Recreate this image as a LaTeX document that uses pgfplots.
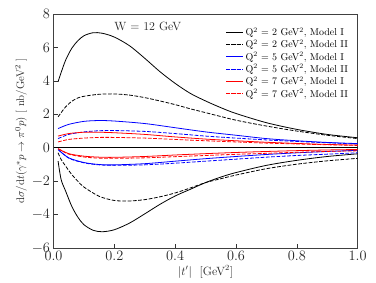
\documentclass[border=0pt]{standalone}
\usepackage{pgfplots}
\pgfplotsset{compat=1.18}
\begin{document}
\begin{tikzpicture}
\begin{axis}[
  scale only axis, width=304bp, height=234bp,
  xmin=0, xmax=1, ymin=-6, ymax=8,
  xtick={0,0.2,0.4,0.6,0.8,1.0},
  xticklabel style={/pgf/number format/.cd,fixed,fixed zerofill,precision=1},
  ytick={-6,-4,-2,0,2,4,6,8},
  tick align=inside, xtick pos=bottom, ytick pos=left,
  major tick length=4bp,
  tick style={black!80, line width=0.6pt},
  axis line style={black!75, line width=0.6pt},
  ticklabel style={font=\fontsize{14}{16}\selectfont, color=black!85},
  xlabel style={font=\fontsize{12}{14}\selectfont, color=black!85, yshift=2bp},
  ylabel style={font=\fontsize{11}{13}\selectfont, color=black!85, yshift=-2bp},
  xlabel={$|t'|$ \ [GeV$^2$]},
  ylabel={$\mathrm{d}\sigma/\mathrm{d}t(\gamma^*p\to\pi^0p)$ [ nb/GeV$^2$ ]},
  legend style={draw=none, fill=none, at={(rel axis cs:0.985,0.96)}, anchor=north east,
    font=\fontsize{10}{12}\selectfont, row sep=-1.3bp},
  legend cell align=left,
  every axis plot/.append style={line width=0.8pt, smooth},
]
\addlegendimage{line legend, draw=black, line width=1.1pt}
\addlegendentry{Q$^2$ = 2 GeV$^2$, Model I}
\addlegendimage{line legend, draw=black, line width=1.1pt, dash pattern=on 3.7bp off 1.6bp}
\addlegendentry{Q$^2$ = 2 GeV$^2$, Model II}
\addlegendimage{line legend, draw=blue, line width=1.1pt}
\addlegendentry{Q$^2$ = 5 GeV$^2$, Model I}
\addlegendimage{line legend, draw=blue, line width=1.1pt, dash pattern=on 3.7bp off 1.6bp}
\addlegendentry{Q$^2$ = 5 GeV$^2$, Model II}
\addlegendimage{line legend, draw=red, line width=1.1pt}
\addlegendentry{Q$^2$ = 7 GeV$^2$, Model I}
\addlegendimage{line legend, draw=red, line width=1.1pt, dash pattern=on 3.7bp off 1.6bp}
\addlegendentry{Q$^2$ = 7 GeV$^2$, Model II}
\addplot[black, line width=1.2pt, forget plot] coordinates {(0,0) (1,0)};
\addplot[black, forget plot] coordinates {(0.015,3.95) (0.025,4.5) (0.04,5.25) (0.06,5.95) (0.08,6.4) (0.1,6.7) (0.13,6.88) (0.16,6.85) (0.2,6.62) (0.25,6.1) (0.3,5.35) (0.35,4.55) (0.4,3.85) (0.45,3.25) (0.5,2.8) (0.55,2.4) (0.6,2.05) (0.7,1.5) (0.8,1.1) (0.9,0.8) (1.0,0.6)};
\addplot[black, dash pattern=on 3.7bp off 1.6bp, forget plot] coordinates {(0.015,1.85) (0.025,2.1) (0.04,2.45) (0.06,2.78) (0.08,2.98) (0.1,3.08) (0.15,3.2) (0.2,3.22) (0.25,3.15) (0.3,3.0) (0.35,2.8) (0.4,2.58) (0.45,2.33) (0.5,2.1) (0.6,1.65) (0.7,1.3) (0.8,1.0) (0.9,0.75) (1.0,0.55)};
\addplot[blue, forget plot] coordinates {(0.015,1.15) (0.05,1.4) (0.1,1.58) (0.15,1.63) (0.2,1.6) (0.3,1.45) (0.4,1.2) (0.5,0.95) (0.6,0.75) (0.7,0.55) (0.8,0.42) (0.9,0.32) (1.0,0.25)};
\addplot[blue, dash pattern=on 3.7bp off 1.6bp, forget plot] coordinates {(0.015,0.55) (0.05,0.8) (0.1,0.95) (0.15,1.02) (0.2,1.03) (0.3,0.98) (0.4,0.85) (0.5,0.7) (0.6,0.58) (0.7,0.47) (0.8,0.38) (0.9,0.3) (1.0,0.22)};
\addplot[red, forget plot] coordinates {(0.015,0.7) (0.05,0.85) (0.1,0.93) (0.15,0.93) (0.2,0.9) (0.3,0.8) (0.4,0.65) (0.5,0.52) (0.6,0.42) (0.7,0.33) (0.8,0.26) (0.9,0.2) (1.0,0.16)};
\addplot[red, dash pattern=on 3.7bp off 1.6bp, forget plot] coordinates {(0.015,0.35) (0.05,0.5) (0.1,0.58) (0.15,0.62) (0.2,0.62) (0.3,0.58) (0.4,0.5) (0.5,0.42) (0.6,0.35) (0.7,0.28) (0.8,0.23) (0.9,0.18) (1.0,0.14)};
% lower branches
\addplot[black, forget plot] coordinates {(0.015,-0.8) (0.025,-1.9) (0.04,-2.6) (0.06,-3.5) (0.08,-4.15) (0.1,-4.6) (0.13,-4.93) (0.16,-5.02) (0.2,-4.9) (0.25,-4.5) (0.3,-3.95) (0.35,-3.38) (0.4,-2.88) (0.45,-2.48) (0.5,-2.08) (0.55,-1.75) (0.6,-1.48) (0.7,-1.05) (0.8,-0.75) (0.9,-0.52) (1.0,-0.36)};
\addplot[black, dash pattern=on 3.7bp off 1.6bp, forget plot] coordinates {(0.015,-0.3) (0.025,-0.7) (0.04,-1.1) (0.06,-1.6) (0.08,-2.0) (0.1,-2.35) (0.15,-2.9) (0.2,-3.15) (0.25,-3.18) (0.3,-3.1) (0.35,-2.93) (0.4,-2.7) (0.45,-2.4) (0.5,-2.08) (0.55,-1.85) (0.6,-1.63) (0.7,-1.25) (0.8,-0.98) (0.9,-0.78) (1.0,-0.63)};
\addplot[blue, forget plot] coordinates {(0.015,-0.1) (0.05,-0.6) (0.1,-0.88) (0.15,-1.0) (0.2,-1.02) (0.3,-0.95) (0.4,-0.8) (0.5,-0.65) (0.6,-0.52) (0.7,-0.4) (0.8,-0.3) (0.9,-0.22) (1.0,-0.15)};
\addplot[blue, dash pattern=on 3.7bp off 1.6bp, forget plot] coordinates {(0.015,-0.1) (0.05,-0.62) (0.1,-0.9) (0.15,-1.02) (0.2,-1.05) (0.3,-1.02) (0.4,-0.92) (0.5,-0.8) (0.6,-0.68) (0.7,-0.56) (0.8,-0.46) (0.9,-0.38) (1.0,-0.3)};
\addplot[red, forget plot] coordinates {(0.015,-0.05) (0.05,-0.35) (0.1,-0.5) (0.15,-0.56) (0.2,-0.57) (0.3,-0.52) (0.4,-0.43) (0.5,-0.35) (0.6,-0.28) (0.7,-0.22) (0.8,-0.17) (0.9,-0.13) (1.0,-0.1)};
\addplot[red, dash pattern=on 3.7bp off 1.6bp, forget plot] coordinates {(0.015,-0.05) (0.05,-0.38) (0.1,-0.55) (0.15,-0.62) (0.2,-0.63) (0.3,-0.6) (0.4,-0.53) (0.5,-0.46) (0.6,-0.39) (0.7,-0.33) (0.8,-0.27) (0.9,-0.22) (1.0,-0.18)};
\node[font=\fontsize{12}{14}\selectfont, text=black!85] at (axis cs:0.31,7.27) {W = 12 GeV};
\end{axis}
\pgfresetboundingbox
\path (current axis.south west) ++(-53.5bp,-34bp) coordinate (bbl);
\path (current axis.north east) ++(18.3bp,14bp) coordinate (bbr);
\useasboundingbox (bbl) rectangle (bbr);
\end{tikzpicture}
\end{document}
